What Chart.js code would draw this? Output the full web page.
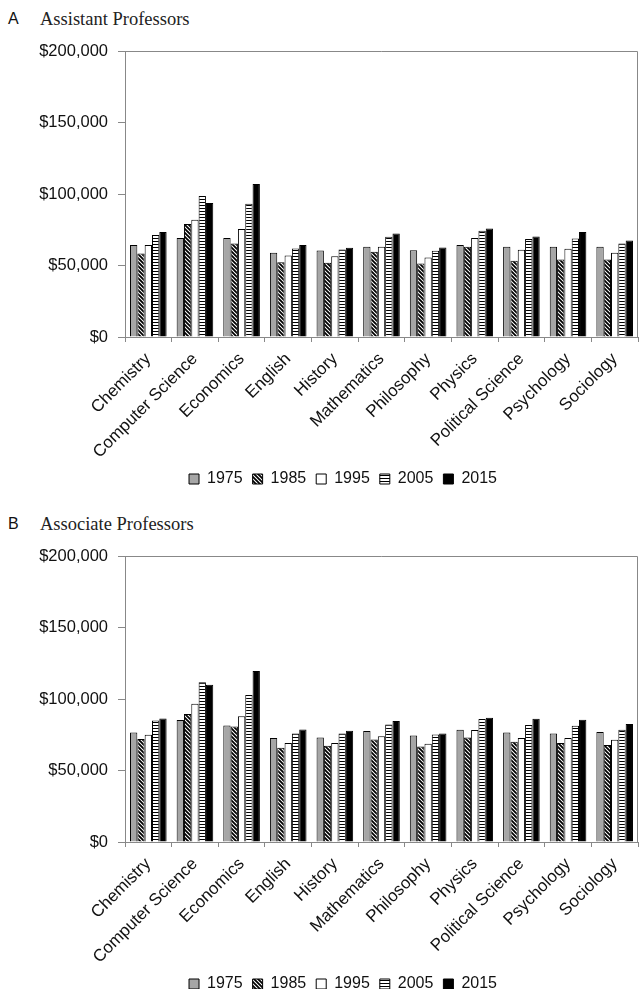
<!DOCTYPE html>
<html>
<head>
<meta charset="utf-8">
<script src="https://cdn.jsdelivr.net/npm/chart.js@4.4.0/dist/chart.umd.min.js"></script>
<style>
body{margin:0;width:640px;height:989px;overflow:hidden;background:#fff;position:relative}
.letter{position:absolute;left:8px;font:16px "Liberation Sans",Arial,sans-serif;line-height:16px;color:#111}
.title{position:absolute;left:40px;font:18.5px "Liberation Serif","Times New Roman",serif;line-height:18px;color:#222}
canvas{position:absolute;left:0}
</style>
</head>
<body>
<div class="letter" style="top:11px">A</div>
<div class="title" style="top:10px">Assistant Professors</div>
<canvas id="chartA" width="640" height="469" style="top:28px"></canvas>
<div class="letter" style="top:516px">B</div>
<div class="title" style="top:515px">Associate Professors</div>
<canvas id="chartB" width="640" height="469" style="top:533px"></canvas>
<script>
const departments = ['Chemistry', 'Computer Science', 'Economics', 'English', 'History',
  'Mathematics', 'Philosophy', 'Physics', 'Political Science', 'Psychology', 'Sociology'];
const years = ['1975', '1985', '1995', '2005', '2015'];

// A - assistant professors, mean salary in dollars
const asst1975 = [64300, 69200, 69200, 58900, 60500, 63100, 60700, 64300, 63100, 63100, 63100];
const asst1985 = [58400, 79000, 65400, 52300, 51900, 59600, 51400, 63100, 53300, 54200, 54200];
const asst1995 = [64300, 82000, 75500, 57000, 56500, 63100, 55600, 69200, 61000, 61700, 58900];
const asst2005 = [71300, 98600, 93200, 61900, 61200, 70100, 60300, 74300, 68500, 68900, 65400];
const asst2015 = [73400, 93700, 107000, 64300, 62400, 72400, 62600, 75900, 70300, 73400, 67500];

// B - associate professors
const assoc1975 = [76600, 85300, 81500, 72700, 73100, 77600, 74500, 78500, 76600, 75900, 76900];
const assoc1985 = [72000, 89500, 80800, 65900, 67300, 71700, 66800, 73100, 70100, 69200, 67800];
const assoc1995 = [75000, 96700, 88000, 69200, 69200, 74000, 68700, 78300, 72700, 72700, 71500];
const assoc2005 = [85000, 111700, 102800, 75900, 75900, 82200, 75200, 86000, 81800, 81300, 78500];
const assoc2015 = [86400, 110000, 119600, 78700, 77800, 84600, 75900, 86900, 86200, 85500, 82500];

const yTicks = [0, 50000, 100000, 150000, 200000];

Chart.defaults.font.family = '"Liberation Sans", Arial, sans-serif';
Chart.defaults.font.size = 16;
Chart.defaults.color = '#111';

function diagPattern(ctx) {
  const c = document.createElement('canvas');
  c.width = 4; c.height = 4;
  const g = c.getContext('2d');
  g.fillStyle = '#fff';
  g.fillRect(0, 0, 4, 4);
  g.strokeStyle = '#000';
  g.lineWidth = 1.8;
  g.beginPath();
  g.moveTo(-1, -1); g.lineTo(5, 5);
  g.moveTo(3, -1); g.lineTo(5, 1);
  g.moveTo(-1, 3); g.lineTo(1, 5);
  g.stroke();
  return ctx.createPattern(c, 'repeat');
}

function stripePattern(ctx) {
  const c = document.createElement('canvas');
  c.width = 3; c.height = 3;
  const g = c.getContext('2d');
  g.fillStyle = '#fff';
  g.fillRect(0, 0, 3, 3);
  g.fillStyle = '#000';
  g.fillRect(0, 0, 3, 1);
  return ctx.createPattern(c, 'repeat');
}

// top and right edge of the plot box
const frame = {
  id: 'frame',
  afterDatasetsDraw(chart) {
    const {ctx, chartArea: a} = chart;
    ctx.save();
    ctx.strokeStyle = '#888';
    ctx.lineWidth = 1;
    ctx.beginPath();
    ctx.moveTo(a.left, a.top + 0.5);
    ctx.lineTo(a.right - 0.5, a.top + 0.5);
    ctx.lineTo(a.right - 0.5, a.bottom);
    ctx.stroke();
    ctx.restore();
  }
};

// legend sits a bit right of the canvas centre
const legendShift = {
  id: 'legendShift',
  afterLayout(chart) {
    chart.legend.left += 24;
    chart.legend.right += 24;
  }
};

function drawPanel(id, series) {
  const canvas = document.getElementById(id);
  const ctx = canvas.getContext('2d');
  const fills = ['#a6a6a6', diagPattern(ctx), '#ffffff', stripePattern(ctx), '#000000'];
  new Chart(canvas, {
    type: 'bar',
    data: {
      labels: departments,
      datasets: series.map((s, i) => ({
        label: years[i],
        data: s,
        backgroundColor: fills[i],
        borderColor: '#000',
        borderWidth: 1,
        categoryPercentage: 0.785,
        barPercentage: 1.0
      }))
    },
    options: {
      responsive: false,
      animation: false,
      layout: {padding: {top: 23, right: 2, left: 0, bottom: 0}},
      plugins: {
        title: {display: false},
        tooltip: {enabled: false},
        legend: {
          position: 'bottom',
          labels: {boxWidth: 10, boxHeight: 10, padding: 10, font: {size: 16}, color: '#111'}
        }
      },
      scales: {
        x: {
          grid: {drawOnChartArea: false, tickLength: 5, color: '#888', offset: true},
          border: {color: '#888'},
          ticks: {minRotation: 45, maxRotation: 45, autoSkip: false, padding: 7, font: {size: 17}},
          afterFit(axis) { axis.height = 124; }
        },
        y: {
          min: 0, max: 200000,
          afterBuildTicks(axis) { axis.ticks = yTicks.map(v => ({value: v})); },
          grid: {drawOnChartArea: false, tickLength: 7, color: '#888'},
          border: {color: '#888'},
          ticks: {
            padding: 10,
            font: {size: 16.5},
            callback: v => '$' + v.toLocaleString('en-US')
          },
          afterFit(axis) { axis.width = 125; }
        }
      }
    },
    plugins: [frame, legendShift]
  });
}

drawPanel('chartA', [asst1975, asst1985, asst1995, asst2005, asst2015]);
drawPanel('chartB', [assoc1975, assoc1985, assoc1995, assoc2005, assoc2015]);
</script>
</body>
</html>
